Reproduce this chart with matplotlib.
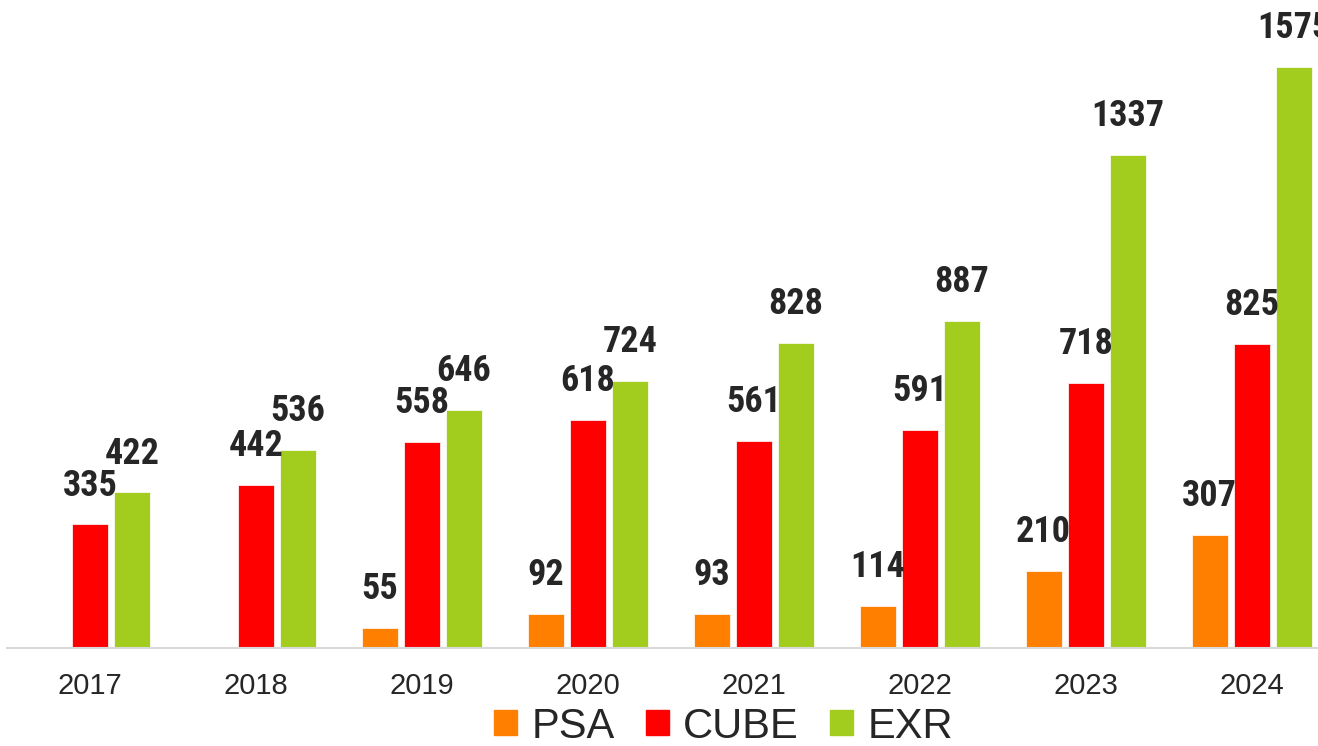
import numpy as np
import matplotlib
matplotlib.use("Agg")
import matplotlib.pyplot as plt
from matplotlib.patches import Patch

# data
years = ["2017", "2018", "2019", "2020", "2021", "2022", "2023", "2024"]
psa = [np.nan, np.nan, 55, 92, 93, 114, 210, 307]
cube = [335, 442, 558, 618, 561, 591, 718, 825]
exr = [422, 536, 646, 724, 828, 887, 1337, 1575]

series = [("PSA", psa, "#FF8000"), ("CUBE", cube, "#FF0000"), ("EXR", exr, "#A2CD1E")]

fig = plt.figure(figsize=(13.18, 7.46), dpi=100)
ax = fig.add_axes([7 / 1318, 98 / 746, 1 - 7 / 1318, 627 / 746])

x = np.arange(len(years))
width = 0.217
offset = 0.253

label_font = dict(family=["Roboto Condensed", "Liberation Sans Narrow", "DejaVu Sans"],
                  weight="bold", stretch="condensed", size=26, color="#262626")

for i, (name, vals, color) in enumerate(series):
    pos = x + (i - 1) * offset
    ax.bar(pos, vals, width, color=color, edgecolor="white", linewidth=0.5, label=name)
    for px, v in zip(pos, vals):
        if np.isnan(v):
            continue
        ax.annotate(str(v), (px, v), xytext=(0, 15), textcoords="offset points",
                    ha="center", va="bottom", **label_font)

ax.set_xlim(-0.5, 7.4)
ax.set_ylim(0, 1700)
ax.set_xticks(x)
ax.set_xticklabels(years, family="Liberation Sans", fontsize=21, color="#262626")
ax.tick_params(axis="x", length=0, pad=17)
ax.set_yticks([])
for s in ["top", "right", "left"]:
    ax.spines[s].set_visible(False)
ax.spines["bottom"].set_color("#d9d9d9")
ax.spines["bottom"].set_linewidth(1.5)

handles = [Patch(color=c, label=n) for n, _, c in series]
fig.legend(handles=handles, loc="center", bbox_to_anchor=(0.549, 0.026), ncol=3,
           frameon=False, prop=dict(family="Liberation Sans", size=30),
           handlelength=0.55, handleheight=0.55, handletextpad=0.35, columnspacing=0.75,
           labelcolor="#262626")

fig.savefig("out.png", dpi=100)
